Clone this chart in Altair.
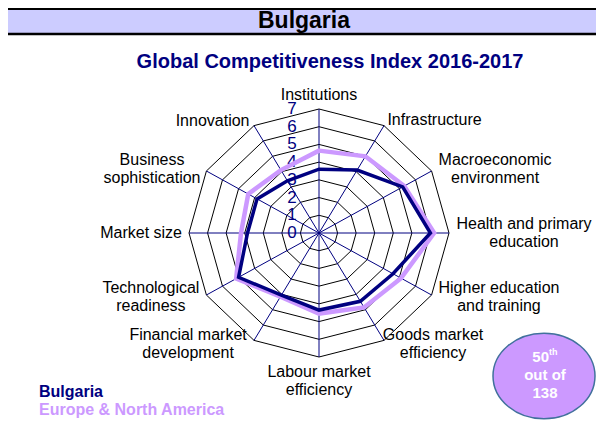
import altair as alt
import pandas as pd

# ---------------- data ----------------
categories = [
    "Institutions", "Infrastructure", "Macroeconomic\nenvironment",
    "Health and primary\neducation", "Higher education\nand training",
    "Goods market\nefficiency", "Labour market\nefficiency",
    "Financial market\ndevelopment", "Technological\nreadiness",
    "Market size", "Business\nsophistication", "Innovation",
]
bulgaria = [3.6, 4.1, 5.2, 6.0, 4.6, 4.45, 4.35, 4.05, 5.0, 3.85, 3.85, 3.4]
europe = [4.65, 5.0, 5.3, 6.2, 5.1, 4.85, 4.55, 4.15, 5.15, 4.2, 4.4, 4.1]
ticks = [0, 1, 2, 3, 4, 5, 6, 7]
series_names = ["Bulgaria", "Europe & North America"]

# ---------------- layout / style (not data) ----------------
W, H = 588, 413
CX, CY = 311, 225          # chart centre in chart pixels
RX, RY = 130, 124          # pixel radius of the 7 ring
NAVY = "#000080"
LILAC = "#CC99FF"
FONT = "Liberation Sans"
# label block centres, in radar units
label_anchor = [
    (0, 7.79), (6.22, 6.38), (9.48, 3.61), (11.04, 0), (9.69, -3.61),
    (6.14, -6.27), (0, -8.38), (-7.05, -6.27), (-9.05, -3.61),
    (-9.58, 0), (-8.99, 3.61), (-5.73, 6.32),
]

xs = alt.Scale(domain=[-7, 7], range=[CX - RX, CX + RX])
ys = alt.Scale(domain=[-7, 7], range=[CY + RY, CY - RY])


def X(f):
    return alt.X(f, type="quantitative", scale=xs, axis=None)


def Y(f):
    return alt.Y(f, type="quantitative", scale=ys, axis=None)


n = len(categories)
rmax = max(ticks)

series_df = pd.DataFrame(
    [{"series": s, "idx": i, "value": v}
     for s, vals in zip(series_names, [bulgaria, europe])
     for i, v in enumerate(vals)]
)
grid_df = pd.DataFrame([{"r": r, "idx": i} for r in ticks[1:] for i in range(n)])
spoke_df = pd.DataFrame({"idx": list(range(n)), "r": [rmax] * n})
tick_df = pd.DataFrame({"t": ticks})
label_df = pd.DataFrame({
    "text": categories,
    "lines": [c.count("\n") + 1 for c in categories],
    "lx": [a[0] for a in label_anchor],
    "ly": [a[1] for a in label_anchor],
})

polar = dict(theta="datum.idx * PI / 6")

grid = alt.Chart(grid_df).transform_calculate(**polar).transform_calculate(
    x="datum.r * sin(datum.theta)", y="datum.r * cos(datum.theta)"
).mark_line(interpolate="linear-closed", color="black", strokeWidth=1).encode(
    x=X("x"), y=Y("y"), detail="r:N", order="idx:Q"
)

spokes = alt.Chart(spoke_df).transform_calculate(**polar).transform_calculate(
    x0="0", y0="0",
    x="datum.r * sin(datum.theta)", y="datum.r * cos(datum.theta)"
).mark_rule(color=NAVY, strokeWidth=1).encode(
    x=X("x0"), y=Y("y0"), x2="x:Q", y2="y:Q"
)

tick_labels = alt.Chart(tick_df).transform_calculate(x0="0").mark_text(
    font=FONT, fontSize=17, color=NAVY, dx=-27, align="center", baseline="middle"
).encode(x=X("x0"), y=Y("t"), text="t:N")


def radar_line(name, color, width):
    return alt.Chart(series_df).transform_filter(
        alt.datum.series == name
    ).transform_calculate(**polar).transform_calculate(
        x="datum.value * sin(datum.theta)", y="datum.value * cos(datum.theta)"
    ).mark_line(
        interpolate="linear-closed", color=color, strokeWidth=width, strokeJoin="miter"
    ).encode(x=X("x"), y=Y("y"), order="idx:Q")


line_eu = radar_line("Europe & North America", LILAC, 4.5)
line_bg = radar_line("Bulgaria", NAVY, 3.5)


def cat_text(nlines, dy):
    return alt.Chart(label_df).transform_filter(
        alt.datum.lines == nlines
    ).mark_text(
        font=FONT, fontSize=16, color="black", align="center", baseline="middle",
        lineBreak="\n", lineHeight=18, dy=dy
    ).encode(x=X("lx"), y=Y("ly"), text="text:N")


cat_labels_1 = cat_text(1, 0)
cat_labels_2 = cat_text(2, -9)

one = pd.DataFrame({"k": [0]})

band = alt.Chart(one).mark_rect(color="#CCCCFF").encode(
    x=alt.value(0), x2=alt.value(W), y=alt.value(0), y2=alt.value(27)
)
band_top = alt.Chart(one).mark_rule(color="black", strokeWidth=2).encode(
    x=alt.value(0), x2=alt.value(W), y=alt.value(1)
)
band_bot = alt.Chart(one).mark_rule(color="black", strokeWidth=2.5).encode(
    x=alt.value(0), x2=alt.value(W), y=alt.value(26)
)
title = alt.Chart(one).mark_text(
    text="Bulgaria", font=FONT, fontSize=23, fontWeight="bold", color="black",
    align="center", baseline="middle"
).encode(x=alt.value(296), y=alt.value(13))
subtitle = alt.Chart(one).mark_text(
    text="Global Competitiveness Index 2016-2017", font=FONT, fontSize=20,
    fontWeight="bold", color=NAVY, align="center", baseline="middle"
).encode(x=alt.value(322), y=alt.value(54))

legend_bg = alt.Chart(one).mark_text(
    text=series_names[0], font=FONT, fontSize=16, fontWeight="bold", color=NAVY,
    align="left", baseline="middle"
).encode(x=alt.value(31), y=alt.value(384))
legend_eu = alt.Chart(one).mark_text(
    text=series_names[1], font=FONT, fontSize=16, fontWeight="bold", color=LILAC,
    align="left", baseline="middle"
).encode(x=alt.value(31), y=alt.value(402))

ellipse = alt.Chart(one).mark_point(
    shape="M -1 0 A 1 0.84 0 1 1 1 0 A 1 0.84 0 1 1 -1 0 Z",
    size=102 * 102, filled=True, fill=LILAC, stroke="#41719C", strokeWidth=1.5,
    opacity=1
).encode(x=alt.value(536), y=alt.value(368))

rank_50 = alt.Chart(one).mark_text(
    text="50", font=FONT, fontSize=15, fontWeight="bold", color="white",
    align="right", baseline="middle"
).encode(x=alt.value(541), y=alt.value(349))
rank_th = alt.Chart(one).mark_text(
    text="th", font=FONT, fontSize=9, fontWeight="bold", color="white",
    align="left", baseline="middle"
).encode(x=alt.value(541), y=alt.value(344))
rank_out = alt.Chart(one).mark_text(
    text="out of", font=FONT, fontSize=15, fontWeight="bold", color="white",
    align="center", baseline="middle"
).encode(x=alt.value(537), y=alt.value(367))
rank_138 = alt.Chart(one).mark_text(
    text="138", font=FONT, fontSize=15, fontWeight="bold", color="white",
    align="center", baseline="middle"
).encode(x=alt.value(537), y=alt.value(385))

chart = alt.layer(
    band, band_top, band_bot, title, subtitle,
    grid, spokes, tick_labels, line_eu, line_bg, cat_labels_1, cat_labels_2,
    legend_bg, legend_eu, ellipse, rank_50, rank_th, rank_out, rank_138,
).properties(
    width=W, height=H,
    autosize=alt.AutoSizeParams(type="none"),
    padding=0,
    background="white",
).configure_view(strokeWidth=0)

chart.save("out.html", embed_options={"renderer": "svg", "actions": False})
